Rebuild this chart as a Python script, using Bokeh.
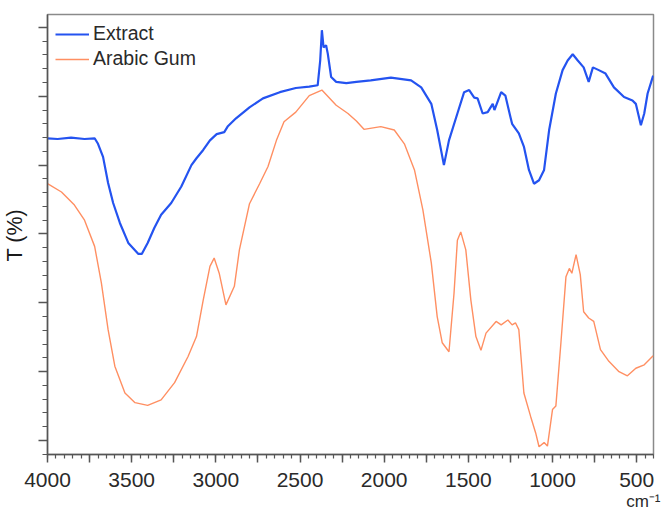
from bokeh.plotting import figure
from bokeh.models import Range1d, FixedTicker, CustomJSTickFormatter, Legend, LegendItem, Title
from bokeh.embed import file_html
from bokeh.resources import INLINE

# Extract (blue) spectrum: wavenumber (cm-1) and transmittance (arbitrary %)
extract_wn = [4000, 3940, 3860, 3780, 3720, 3700, 3670, 3640, 3610, 3570, 3520, 3460, 3440,
              3405, 3365, 3325, 3265, 3205, 3145, 3115, 3075, 3035, 2995, 2950, 2930, 2880,
              2800, 2720, 2620, 2525, 2445, 2395, 2380, 2370, 2360, 2345, 2335, 2315, 2285,
              2225, 2165, 2080, 1960, 1840, 1780, 1720, 1685, 1645, 1615, 1565, 1525, 1495,
              1465, 1445, 1415, 1385, 1355, 1345, 1305, 1280, 1250, 1240, 1200, 1170, 1140,
              1110, 1080, 1050, 1020, 980, 940, 910, 880, 850, 815, 785, 760, 725, 685, 635,
              575, 525, 505, 475, 455, 435, 402]
extract_t = [53.9, 53.8, 54.0, 53.8, 53.9, 53.1, 51.2, 47.4, 44.5, 41.6, 38.7, 37.1, 37.1,
             38.7, 40.9, 42.8, 44.5, 46.9, 50.0, 51.0, 52.2, 53.6, 54.5, 54.8, 55.6, 56.8,
             58.4, 59.7, 60.6, 61.2, 61.4, 61.6, 65.2, 69.6, 67.1, 67.4, 66.2, 62.8, 62.1,
             61.9, 62.1, 62.3, 62.7, 62.3, 61.3, 58.9, 55.1, 50.0, 53.6, 57.5, 60.6, 60.9,
             59.8, 59.7, 57.5, 57.7, 58.9, 58.0, 60.6, 60.1, 57.0, 56.0, 54.6, 52.7, 49.3,
             47.3, 47.8, 49.3, 55.1, 60.4, 63.8, 65.2, 66.1, 65.2, 64.2, 62.1, 64.2, 63.8,
             63.3, 61.3, 59.9, 59.4, 58.9, 55.8, 57.5, 60.4, 63.0]

# Arabic Gum (orange) spectrum
gum_wn = [4000, 3917, 3840, 3780, 3720, 3680, 3640, 3600, 3540, 3480, 3405, 3325, 3245, 3165,
          3115, 3075, 3035, 3010, 2980, 2940, 2890, 2860, 2800, 2740, 2690, 2640, 2595, 2525,
          2445, 2370, 2285, 2215, 2165, 2120, 2020, 1940, 1880, 1820, 1770, 1720, 1685, 1655,
          1615, 1585, 1565, 1545, 1515, 1485, 1455, 1425, 1395, 1335, 1305, 1265, 1240, 1220,
          1200, 1170, 1130, 1100, 1080, 1050, 1030, 1000, 980, 950, 920, 900, 885, 860, 835,
          815, 785, 755, 715, 665, 605, 555, 505, 455, 402]
gum_t = [47.3, 46.1, 44.2, 42.0, 38.2, 32.9, 26.1, 20.8, 16.9, 15.5, 15.1, 15.9, 18.4, 22.2,
         25.1, 30.4, 35.3, 36.5, 34.3, 29.7, 32.4, 37.7, 44.4, 47.3, 49.8, 53.6, 56.3, 57.7,
         60.1, 60.9, 58.7, 57.5, 56.4, 55.2, 55.6, 55.1, 53.1, 49.3, 43.5, 35.8, 28.0, 24.2,
         22.9, 31.4, 39.1, 40.3, 37.7, 30.4, 25.1, 23.1, 25.6, 27.3, 26.8, 27.5, 26.8, 27.1,
         26.1, 16.9, 13.5, 11.1, 9.1, 9.7, 9.2, 14.5, 15.0, 24.2, 33.8, 35.0, 34.3, 37.0, 34.1,
         28.7, 27.8, 27.3, 23.2, 21.5, 20.0, 19.4, 20.5, 21.0, 22.3]

series_names = ["Extract", "Arabic Gum"]
x_major = list(range(4000, 399, -250))
x_minor = list(range(4000, 399, -50))
x_labels = {v: (str(v) if v % 500 == 0 else "") for v in x_major}
y_major = [10, 20, 30, 40, 50, 60, 70]
y_minor = list(range(8, 72, 2))

FONT = "Liberation Sans"
BLUE = "#2453f0"
ORANGE = "#ff8f62"

p = figure(width=662, height=510, output_backend="svg", toolbar_location=None,
           x_range=Range1d(4000, 400), y_range=Range1d(7.97, 71.88),
           min_border_left=45, min_border_top=14, min_border_right=9, min_border_bottom=55)
p.grid.visible = False
p.outline_line_color = "#8a8a8a"
p.outline_line_width = 1.5
p.background_fill_color = "white"
p.border_fill_color = "white"

r1 = p.line(extract_wn, extract_t, line_color=BLUE, line_width=2.2)
r2 = p.line(gum_wn, gum_t, line_color=ORANGE, line_width=1.4)

xa = p.xaxis[0]
xa.ticker = FixedTicker(ticks=x_major, minor_ticks=x_minor)
xa.major_label_overrides = x_labels
xa.major_tick_out = 8
xa.major_tick_in = 0
xa.minor_tick_out = 4
xa.minor_tick_in = 0
xa.axis_line_color = "#555555"
xa.axis_line_width = 1.5
xa.major_tick_line_color = "#555555"
xa.minor_tick_line_color = "#555555"
xa.major_tick_line_width = 1.5
xa.minor_tick_line_width = 1.2
xa.major_label_text_font = FONT
xa.major_label_text_font_size = "21px"
xa.major_label_text_color = "#2a2a2a"
xa.major_label_standoff = 10

ya = p.yaxis[0]
ya.ticker = FixedTicker(ticks=y_major, minor_ticks=y_minor)
ya.formatter = CustomJSTickFormatter(code="return ''")
ya.major_tick_out = 9
ya.major_tick_in = 0
ya.minor_tick_out = 5
ya.minor_tick_in = 0
ya.axis_line_color = "#555555"
ya.axis_line_width = 1.5
ya.major_tick_line_color = "#555555"
ya.minor_tick_line_color = "#555555"
ya.major_tick_line_width = 1.5
ya.minor_tick_line_width = 1.2
ya.major_label_standoff = 0
ya.axis_label = " "
ya.axis_label_text_font_size = "1px"
ya.axis_label_standoff = 8

ylab = Title(text="T (%)", align="left", offset=193, standoff=0,
             text_font=FONT, text_font_size="21.5px", text_font_style="normal",
             text_color="#1a1a1a")
p.add_layout(ylab, "left")

xunit = Title(text="cm⁻¹", align="right", offset=-7, standoff=0,
              text_font=FONT, text_font_size="17px", text_font_style="normal",
              text_color="#2a2a2a")
p.add_layout(xunit, "below")

legend = Legend(items=[LegendItem(label=series_names[0], renderers=[r1]),
                       LegendItem(label=series_names[1], renderers=[r2])],
                location="top_left", margin=0, padding=8, spacing=2,
                label_height=16, glyph_height=16, glyph_width=34, label_standoff=4,
                border_line_alpha=0, background_fill_alpha=0,
                label_text_font=FONT, label_text_font_size="19.5px", label_text_color="#2a2a2a")
p.add_layout(legend)

open("out.html", "w").write(file_html(p, INLINE))
